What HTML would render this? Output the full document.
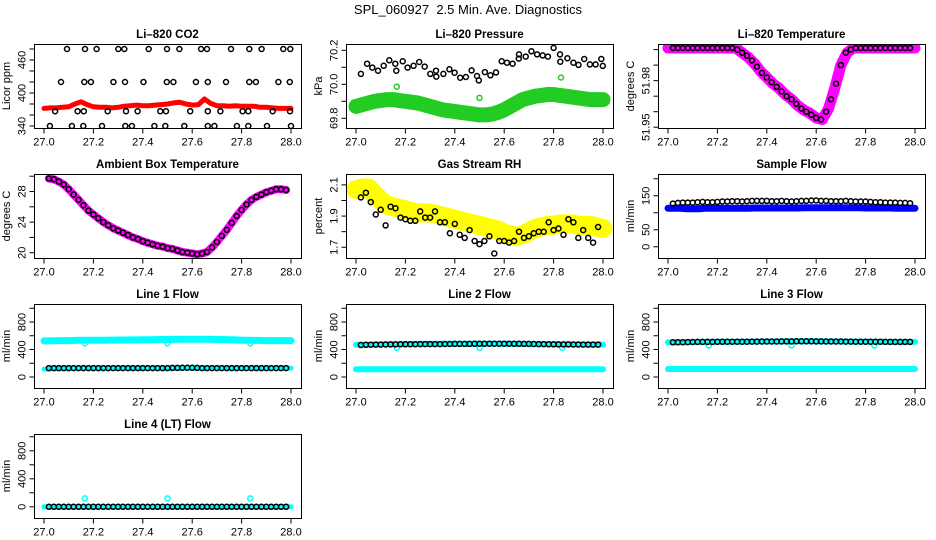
<!DOCTYPE html>
<html><head><meta charset="utf-8"><style>
html,body{margin:0;padding:0;background:#fff;}
svg{display:block;font-family:"Liberation Sans",sans-serif;}
</style></head><body>
<svg id="c" width="936" height="540" viewBox="0 0 936 540">
<text x="468" y="14" text-anchor="middle" font-size="13">SPL_060927&#160; 2.5 Min. Ave. Diagnostics</text>
</svg>
<script>
// ---- data ----
const t49 = [27.02,27.04,27.06,27.08,27.10,27.12,27.14,27.16,27.18,27.20,27.22,27.24,27.26,27.28,27.30,27.32,27.34,27.36,27.38,27.40,27.42,27.44,27.46,27.48,27.50,27.52,27.54,27.56,27.58,27.60,27.62,27.64,27.66,27.68,27.70,27.72,27.74,27.76,27.78,27.80,27.82,27.84,27.86,27.88,27.90,27.92,27.94,27.96,27.98];
const t41 = [27.000,27.025,27.050,27.075,27.100,27.125,27.150,27.175,27.200,27.225,27.250,27.275,27.300,27.325,27.350,27.375,27.400,27.425,27.450,27.475,27.500,27.525,27.550,27.575,27.600,27.625,27.650,27.675,27.700,27.725,27.750,27.775,27.800,27.825,27.850,27.875,27.900,27.925,27.950,27.975,28.000];
const xTicks = [27.0,27.2,27.4,27.6,27.8,28.0];
const xTickLabels = ["27.0","27.2","27.4","27.6","27.8","28.0"];

const co2BlackT = [27.093,27.166,27.213,27.301,27.325,27.424,27.498,27.548,27.636,27.660,27.757,27.831,27.881,27.969,27.997,
 27.069,27.163,27.190,27.281,27.328,27.403,27.497,27.524,27.615,27.663,27.737,27.831,27.858,27.949,27.995,
 27.045,27.136,27.161,27.258,27.332,27.379,27.471,27.494,27.592,27.663,27.714,27.804,27.827,27.926,27.996,
 27.024,27.113,27.159,27.235,27.329,27.356,27.447,27.491,27.568,27.663,27.690,27.781,27.827,27.903,28.000];
const co2BlackV = [480,480,480,480,480,480,480,480,480,480,480,480,480,480,480,
 420,420,420,420,420,420,420,420,420,420,420,420,420,420,420,
 367,367,367,367,367,367,367,367,367,367,367,367,367,367,367,
 340,340,340,340,340,340,340,340,340,340,340,340,340,340,340];
const co2Red = [372,373,373,374,375,380,384,379,375,374,374,373,374,376,377,378,377,377,378,379,380,382,383,380,378,379,389,381,377,377,376,377,376,376,376,374,374,373,372,372,372];

const presBlackT = [27.020,27.045,27.066,27.089,27.112,27.135,27.159,27.163,27.189,27.209,27.233,27.256,27.278,27.301,27.324,27.325,27.354,27.378,27.399,27.422,27.445,27.468,27.490,27.497,27.522,27.544,27.567,27.590,27.611,27.634,27.659,27.660,27.687,27.710,27.733,27.756,27.777,27.800,27.826,27.827,27.856,27.880,27.901,27.924,27.947,27.970,27.993,27.999];
const presBlackV = [70.061,70.121,70.098,70.080,70.109,70.141,70.121,70.080,70.135,70.098,70.109,70.131,70.104,70.061,70.080,70.045,70.061,70.088,70.068,70.039,70.043,70.082,70.049,70.023,70.072,70.053,70.070,70.135,70.127,70.121,70.151,70.176,70.163,70.194,70.176,70.170,70.163,70.214,70.176,70.133,70.153,70.127,70.114,70.149,70.117,70.117,70.149,70.108];
const presGreen = [69.87,69.88,69.89,69.90,69.905,69.91,69.91,69.905,69.90,69.895,69.89,69.88,69.87,69.86,69.85,69.845,69.84,69.835,69.83,69.825,69.82,69.82,69.825,69.835,69.85,69.87,69.89,69.91,69.92,69.93,69.935,69.94,69.94,69.935,69.93,69.925,69.92,69.915,69.91,69.91,69.91];
const presGreenOutT = [27.165,27.500,27.830];
const presGreenOutV = [69.986,69.92,70.04];

const tempBlack = [52.001,52.001,52.001,52.001,52.001,52.001,52.001,52.001,52.001,52.001,52.001,52.001,52.001,52.000,51.998,51.996,51.993,51.989,51.985,51.982,51.979,51.976,51.973,51.970,51.968,51.965,51.962,51.960,51.958,51.956,51.955,51.960,51.968,51.978,51.990,51.998,52.000,52.001,52.001,52.001,52.001,52.001,52.001,52.001,52.001,52.001,52.001,52.001,52.001];
const tempMagenta = [52.001,52.001,52.001,52.001,52.001,52.001,52.001,52.001,52.001,52.001,52.001,52.001,51.998,51.995,51.991,51.986,51.982,51.978,51.975,51.971,51.968,51.964,51.961,51.959,51.956,51.955,51.962,51.975,51.990,51.998,52.001,52.001,52.001,52.001,52.001,52.001,52.001,52.001,52.001,52.001,52.001];

const ambBlack = [29.7,29.6,29.3,28.9,28.3,27.6,26.9,26.2,25.5,25.0,24.5,24.0,23.6,23.2,22.9,22.6,22.3,22.0,21.8,21.5,21.3,21.1,20.9,20.8,20.6,20.5,20.3,20.1,20.0,19.9,19.8,19.9,20.1,20.7,21.4,22.2,23.0,23.9,24.8,25.6,26.3,26.9,27.3,27.6,27.9,28.1,28.3,28.3,28.2];

const rhBlack = [2.02,2.05,1.99,1.91,1.94,1.84,1.96,1.95,1.89,1.88,1.87,1.87,1.93,1.89,1.89,1.93,1.86,1.86,1.79,1.85,1.78,1.76,1.81,1.74,1.72,1.74,1.77,1.66,1.74,1.74,1.73,1.74,1.80,1.76,1.77,1.79,1.80,1.80,1.86,1.81,1.82,1.78,1.88,1.86,1.76,1.81,1.76,1.73,1.83];
const rhYellow = [2.07,2.08,2.08,2.04,2.00,1.97,1.96,1.95,1.94,1.93,1.92,1.92,1.92,1.91,1.90,1.89,1.88,1.87,1.86,1.85,1.84,1.83,1.82,1.81,1.79,1.78,1.77,1.78,1.80,1.82,1.83,1.84,1.84,1.85,1.85,1.85,1.84,1.84,1.84,1.83,1.82];

const sampBlack = [127,129,130,130,130,131,132,131,131,132,133,133,134,134,133,134,135,135,135,135,134,134,135,134,133,134,135,135,136,136,135,135,134,134,134,135,134,133,133,133,132,131,131,130,130,130,129,129,128];
const sampBlue = [113,113,113,112,112,112,113,113,113,113,113,113,113,113,114,114,114,114,114,114,114,114,115,115,115,115,115,115,115,115,115,115,114,114,114,114,114,113,113,113,113];

const l1Black = [130,130,130,130,130,130,130,130,130,130,130,130,130,130,130,130,130,130,130,130,130,130,130,130,130,132,133,134,135,134,132,130,130,130,130,130,130,130,130,130,130,130,130,130,130,130,130,130,130];
const l1CyanHi = [525,525,528,530,530,532,535,535,535,535,536,537,538,538,540,540,542,543,544,545,546,547,548,549,550,550,550,548,546,545,543,540,536,534,533,532,530,530,530,530,530];
const l1CyanLo = [115,118,120,122,125,126,127,128,128,128,128,128,128,128,128,128,128,128,128,128,128,128,128,128,128,128,128,128,128,128,128,128,128,128,128,128,128,128,128,128,128];
const l2Black = [466,468,470,472,472,473,474,475,476,476,477,477,478,478,478,479,479,480,480,481,481,482,482,483,483,483,484,484,484,484,484,483,483,482,481,480,479,478,477,476,475,474,474,473,473,472,472,471,471];
const l2CyanHi = [470,470,470,472,474,476,478,479,480,480,481,481,482,482,483,483,483,484,484,484,484,484,484,483,483,482,482,481,480,479,478,477,476,475,474,474,473,473,472,472,471];
const l2CyanLo = [114,114,114,114,114,114,114,114,114,114,114,114,114,114,114,114,114,114,114,114,114,114,114,114,114,114,114,114,114,114,114,114,114,114,114,114,114,114,114,114,114];
const l3Black = [505,506,507,508,509,510,510,511,511,512,512,513,513,513,514,514,515,515,516,516,517,517,518,518,518,519,519,519,519,518,518,517,517,516,516,515,515,514,514,513,513,512,512,511,511,510,510,510,510];
const l3CyanHi = [505,505,507,508,509,510,511,512,512,513,513,514,514,515,515,516,516,517,517,518,518,519,519,519,519,518,518,517,517,516,515,515,514,513,513,512,511,511,510,510,510];
const l3CyanLo = [116,116,116,116,116,116,116,116,116,116,116,116,116,116,116,116,116,116,116,116,116,116,116,116,116,116,116,116,116,116,116,116,116,116,116,116,116,116,116,116,116];
const l4Black = [0,0,0,0,0,0,0,0,0,0,0,0,0,0,0,0,0,0,0,0,0,0,0,0,0,0,0,0,0,0,0,0,0,0,0,0,0,0,0,0,0,0,0,0,0,0,0,0,0];
const l4Cyan = [0,0,0,0,0,0,0,0,0,0,0,0,0,0,0,0,0,0,0,0,0,0,0,0,0,0,0,0,0,0,0,0,0,0,0,0,0,0,0,0,0];
const flowOutT = [27.165,27.500,27.835];
const l1OutV = [490,490,490];
const l2OutV = [425,425,425];
const l3OutV = [460,460,460];
const l4OutV = [120,120,120];

// ---- drawing ----
const NS = "http://www.w3.org/2000/svg";
const svg = document.getElementById("c");
function mk(tag, attrs, parent) {
  const e = document.createElementNS(NS, tag);
  for (const k in attrs) e.setAttribute(k, attrs[k]);
  (parent || svg).appendChild(e);
  return e;
}

function panel(cfg) {
  const L = 34 + 312 * cfg.col, T = 44 + 130 * cfg.row, W = 267, H = 84;
  const g = mk("g", {});
  
  
  const xs = t => L + 10 + (t - 27) * 247;
  const ys = v => T + H - (v - cfg.yLo) / (cfg.yHi - cfg.yLo) * H;
  const clipId = "clip" + cfg.row + cfg.col;
  const cp = mk("clipPath", {id: clipId}, g);
  mk("rect", {x: L, y: T, width: W, height: H}, cp);
  const plot = mk("g", {"clip-path": "url(#" + clipId + ")"}, g);
  
  
  (cfg.bands || []).forEach(b => {
    const pts = b.v.map((v, i) => xs(b.t[i]).toFixed(1) + "," + ys(v).toFixed(1)).join(" ");
    const pl = mk("polyline", {points: pts, fill: "none", stroke: b.color, "stroke-width": b.w, "stroke-linejoin": "round", "stroke-linecap": "round"}, plot);
    
    
  });
  (cfg.points || []).forEach(p => {
    const pg = mk("g", {}, plot);
    
    
    p.v.forEach((v, i) => {
      const c = mk("circle", {cx: xs(p.t[i]).toFixed(1), cy: ys(v).toFixed(1), r: 2.5, fill: "none", stroke: p.color, "stroke-width": 1.5}, pg);
      
      
    });
  });
  const box = mk("rect", {x: L + 0.5, y: T + 0.5, width: W, height: H, fill: "none", stroke: "#000", "stroke-width": 1}, g);
  
  
  const xa = mk("g", {}, g);
  
  
  const by = T + H + 0.5;
  mk("line", {x1: xs(xTicks[0]), x2: xs(xTicks[xTicks.length - 1]), y1: by, y2: by, stroke: "#000"}, xa);
  xTicks.forEach((t, i) => {
    mk("line", {x1: xs(t), x2: xs(t), y1: by, y2: by + 5, stroke: "#000"}, xa);
    const tx = mk("text", {x: xs(t), y: by + 17, "text-anchor": "middle", "font-size": 11}, xa);
    tx.textContent = xTickLabels[i];
    
    
  });
  const ya = mk("g", {}, g);
  
  
  const ax = L + 0.5;
  mk("line", {x1: ax, x2: ax, y1: ys(cfg.yTicks[0]), y2: ys(cfg.yTicks[cfg.yTicks.length - 1]), stroke: "#000"}, ya);
  cfg.yTicks.forEach(v => mk("line", {x1: ax - 5, x2: ax, y1: ys(v), y2: ys(v), stroke: "#000"}, ya));
  cfg.yLabels.forEach((lab, i) => {
    const yy = ys(cfg.yLabelVals[i]);
    const tx = mk("text", {x: ax - 9, y: yy, "text-anchor": "middle", "font-size": 11, transform: "rotate(-90 " + (ax - 9) + " " + yy + ")"}, ya);
    tx.textContent = lab;
    
    
  });
  const yt = mk("text", {x: L - 24, y: T + H / 2, "text-anchor": "middle", "font-size": 11, transform: "rotate(-90 " + (L - 24) + " " + (T + H / 2) + ")"}, g);
  yt.textContent = cfg.ylab;
  
  
  const tt = mk("text", {x: L + W / 2, y: T - 6, "text-anchor": "middle", "font-size": 11.5, "font-weight": "bold"}, g);
  tt.textContent = cfg.title;
  
  
}

const flowTicks = [0,200,400,600,800,1000];
panel({row:0,col:0,name:"co2",title:"Li\u2013820 CO2",ylab:"Licor ppm",yLo:336.4,yHi:489,
  yTicks:[340,360,380,400,420,440,460,480],yLabels:["340","400","460"],yLabelVals:[340,400,460],
  bands:[{name:"co2-red-series",t:t41,v:co2Red,color:"#ff0000",w:5}],
  points:[{name:"co2-black-series",t:co2BlackT,v:co2BlackV,color:"#000"}]});
panel({row:0,col:1,name:"pressure",title:"Li\u2013820 Pressure",ylab:"kPa",yLo:69.743,yHi:70.237,
  yTicks:[69.8,69.9,70.0,70.1,70.2],yLabels:["69.8","70.0","70.2"],yLabelVals:[69.8,70.0,70.2],
  bands:[{name:"pressure-green-series",t:t41,v:presGreen,color:"#22cc22",w:15}],
  points:[{name:"pressure-green-outliers",t:presGreenOutT,v:presGreenOutV,color:"#22cc22"},{name:"pressure-black-series",t:presBlackT,v:presBlackV,color:"#000"}]});
panel({row:0,col:2,name:"li820-temp",title:"Li\u2013820 Temperature",ylab:"degrees C",yLo:51.9495,yHi:52.0036,
  yTicks:[51.95,51.96,51.97,51.98,51.99,52.00],yLabels:["51.95","51.98"],yLabelVals:[51.95,51.98],
  bands:[{name:"li820-temp-magenta-series",t:t41,v:tempMagenta,color:"#ff00ff",w:11}],
  points:[{name:"li820-temp-black-series",t:t49,v:tempBlack,color:"#000"}]});
panel({row:1,col:0,name:"ambient-temp",title:"Ambient Box Temperature",ylab:"degrees C",yLo:19.31,yHi:30.29,
  yTicks:[20,22,24,26,28,30],yLabels:["20","24","28"],yLabelVals:[20,24,28],
  bands:[{name:"ambient-temp-magenta-series",t:t49,v:ambBlack,color:"#ff00ff",w:8}],
  points:[{name:"ambient-temp-black-series",t:t49,v:ambBlack,color:"#000"}]});
panel({row:1,col:1,name:"gas-rh",title:"Gas Stream RH",ylab:"percent",yLo:1.631,yHi:2.17,
  yTicks:[1.7,1.8,1.9,2.0,2.1],yLabels:["1.7","1.9","2.1"],yLabelVals:[1.7,1.9,2.1],
  bands:[{name:"gas-rh-yellow-series",t:t41,v:rhYellow,color:"#ffff00",w:19}],
  points:[{name:"gas-rh-black-series",t:t49,v:rhBlack,color:"#000"}]});
panel({row:1,col:2,name:"sample-flow",title:"Sample Flow",ylab:"ml/min",yLo:-33,yHi:214,
  yTicks:[0,50,100,150,200],yLabels:["0","50","150"],yLabelVals:[0,50,150],
  bands:[{name:"sample-flow-blue-series",t:t41,v:sampBlue,color:"#0000ff",w:7}],
  points:[{name:"sample-flow-black-series",t:t49,v:sampBlack,color:"#000"}]});
panel({row:2,col:0,name:"line1-flow",title:"Line 1 Flow",ylab:"ml/min",yLo:-160,yHi:1062,
  yTicks:flowTicks,yLabels:["0","400","800"],yLabelVals:[0,400,800],
  bands:[{name:"line1-cyan-high",t:t41,v:l1CyanHi,color:"#00ffff",w:7},{name:"line1-cyan-low",t:t41,v:l1CyanLo,color:"#00ffff",w:5}],
  points:[{name:"line1-cyan-outliers",t:flowOutT,v:l1OutV,color:"#00ffff"},{name:"line1-black-series",t:t49,v:l1Black,color:"#000"}]});
panel({row:2,col:1,name:"line2-flow",title:"Line 2 Flow",ylab:"ml/min",yLo:-160,yHi:1062,
  yTicks:flowTicks,yLabels:["0","400","800"],yLabelVals:[0,400,800],
  bands:[{name:"line2-cyan-high",t:t41,v:l2CyanHi,color:"#00ffff",w:6},{name:"line2-cyan-low",t:t41,v:l2CyanLo,color:"#00ffff",w:6}],
  points:[{name:"line2-cyan-outliers",t:flowOutT,v:l2OutV,color:"#00ffff"},{name:"line2-black-series",t:t49,v:l2Black,color:"#000"}]});
panel({row:2,col:2,name:"line3-flow",title:"Line 3 Flow",ylab:"ml/min",yLo:-160,yHi:1062,
  yTicks:flowTicks,yLabels:["0","400","800"],yLabelVals:[0,400,800],
  bands:[{name:"line3-cyan-high",t:t41,v:l3CyanHi,color:"#00ffff",w:6},{name:"line3-cyan-low",t:t41,v:l3CyanLo,color:"#00ffff",w:6}],
  points:[{name:"line3-cyan-outliers",t:flowOutT,v:l3OutV,color:"#00ffff"},{name:"line3-black-series",t:t49,v:l3Black,color:"#000"}]});
panel({row:3,col:0,name:"line4-flow",title:"Line 4 (LT) Flow",ylab:"ml/min",yLo:-160,yHi:1040,
  yTicks:flowTicks,yLabels:["0","400","800"],yLabelVals:[0,400,800],
  bands:[{name:"line4-cyan-series",t:t41,v:l4Cyan,color:"#00ffff",w:5}],
  points:[{name:"line4-cyan-outliers",t:flowOutT,v:l4OutV,color:"#00ffff"},{name:"line4-black-series",t:t49,v:l4Black,color:"#000"}]});
</script>
</body></html>
